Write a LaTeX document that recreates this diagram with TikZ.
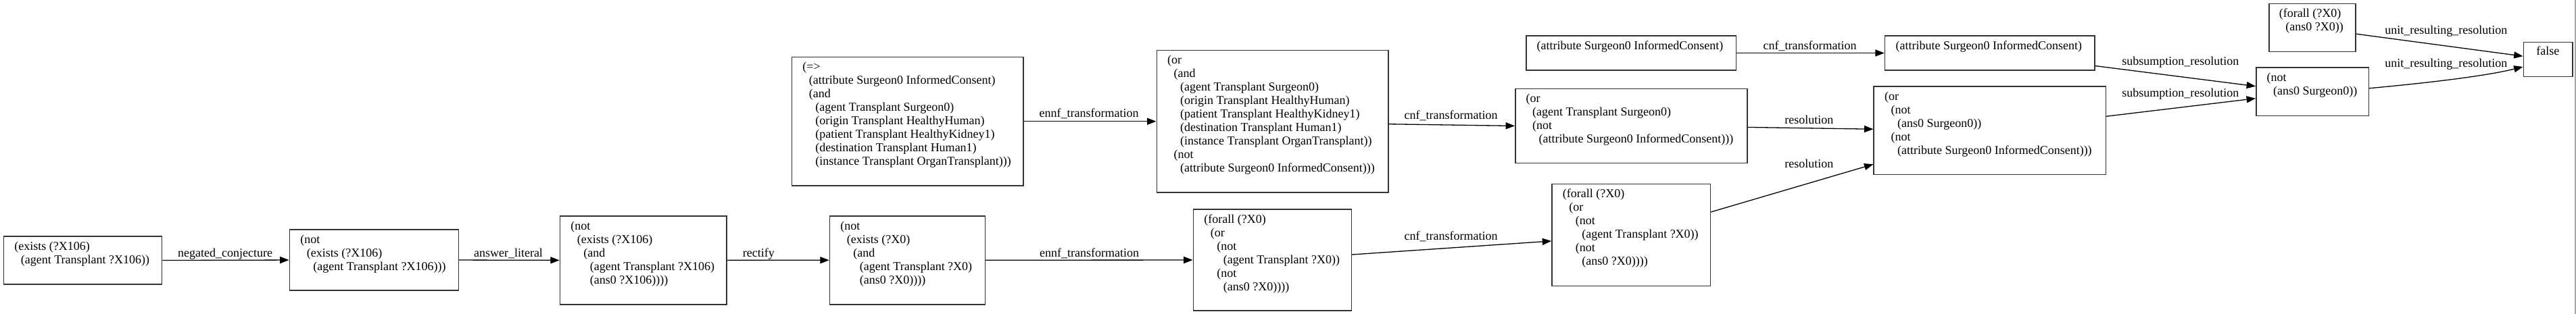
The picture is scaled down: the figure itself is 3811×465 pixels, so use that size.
\documentclass[tikz,border=0pt]{standalone}
\usepackage{fontspec}
\setmainfont{Liberation Serif}
\usetikzlibrary{arrows.meta,calc}
\newlength\ilen \setlength\ilen{9.5pt}
\newcommand\lv[1]{\hspace*{#1\ilen}}
\newcommand\cl[1]{\vtop{\halign{##\hfil\cr#1\crcr}}}
\tikzset{
  nbox/.style={draw=black!80, line width=1.5pt, inner sep=0pt, anchor=north west, fill=white},
  ntext/.style={anchor=base west, inner sep=0pt, font=\fontsize{18}{20}\selectfont},
  elab/.style={anchor=base, inner sep=0pt, font=\fontsize{18}{20}\selectfont},
  conn/.style={draw=black, line width=1.3pt, -{Triangle[length=13.4pt,width=10pt]}},
}
\begin{document}
\begin{tikzpicture}[x=1pt,y=-1pt]
\useasboundingbox (0,0) rectangle (3811,465);
\fill[white] (0,0) rectangle (3811,465);
\draw[black!35, line width=1.6pt] (3810.2,0) -- (3810.2,465);

% boxes
\node[nbox, minimum width=234.2pt, minimum height=71pt] (n1) at (4.6,349.3) {};
\node[nbox, minimum width=250.1pt, minimum height=90pt] (n2) at (427.6,339.3) {};
\node[nbox, minimum width=246.3pt, minimum height=130.7pt] (n3) at (827.7,319.3) {};
\node[nbox, minimum width=230pt, minimum height=131pt] (n4) at (1226.7,319) {};
\node[nbox, minimum width=233.9pt, minimum height=150pt] (n5) at (1764.6,309.3) {};
\node[nbox, minimum width=234.5pt, minimum height=151pt] (n6) at (2295.2,271.7) {};
\node[nbox, minimum width=342.6pt, minimum height=190pt] (n7) at (1170.7,84) {};
\node[nbox, minimum width=342.5pt, minimum height=210pt] (n8) at (1710.5,74) {};
\node[nbox, minimum width=310.5pt, minimum height=51pt] (n9) at (2257,52.3) {};
\node[nbox, minimum width=343pt, minimum height=110pt] (n10) at (2241,130.7) {};
\node[nbox, minimum width=310.5pt, minimum height=51pt] (n11) at (2787.8,52.3) {};
\node[nbox, minimum width=343.3pt, minimum height=130.4pt] (n12) at (2771.4,127.3) {};
\node[nbox, minimum width=166.5pt, minimum height=71.4pt] (n13) at (3337,99.3) {};
\node[nbox, minimum width=128pt, minimum height=71pt] (n14) at (3356.3,5) {};
\node[nbox, minimum width=72.7pt, minimum height=51pt] (n15) at (3732.5,61.7) {};

% texts
\node[ntext] (t1) at (21.1,370.3) {\cl{(exists (?X106)\cr\lv1(agent Transplant ?X106))}};
\node[ntext] (t2) at (444.1,360.3) {\cl{(not\cr\lv1(exists (?X106)\cr\lv2(agent Transplant ?X106)))}};
\node[ntext] (t3) at (844.2,340.3) {\cl{(not\cr\lv1(exists (?X106)\cr\lv2(and\cr\lv3(agent Transplant ?X106)\cr\lv3(ans0 ?X106))))}};
\node[ntext] (t4) at (1243.2,340) {\cl{(not\cr\lv1(exists (?X0)\cr\lv2(and\cr\lv3(agent Transplant ?X0)\cr\lv3(ans0 ?X0))))}};
\node[ntext] (t5) at (1781.1,330.3) {\cl{(forall (?X0)\cr\lv1(or\cr\lv2(not\cr\lv3(agent Transplant ?X0))\cr\lv2(not\cr\lv3(ans0 ?X0))))}};
\node[ntext] (t6) at (2311.7,292.7) {\cl{(forall (?X0)\cr\lv1(or\cr\lv2(not\cr\lv3(agent Transplant ?X0))\cr\lv2(not\cr\lv3(ans0 ?X0))))}};
\node[ntext] (t7) at (1187.2,105) {\cl{(=>\cr\lv1(attribute Surgeon0 InformedConsent)\cr\lv1(and\cr\lv2(agent Transplant Surgeon0)\cr\lv2(origin Transplant HealthyHuman)\cr\lv2(patient Transplant HealthyKidney1)\cr\lv2(destination Transplant Human1)\cr\lv2(instance Transplant OrganTransplant)))}};
\node[ntext] (t8) at (1727,95) {\cl{(or\cr\lv1(and\cr\lv2(agent Transplant Surgeon0)\cr\lv2(origin Transplant HealthyHuman)\cr\lv2(patient Transplant HealthyKidney1)\cr\lv2(destination Transplant Human1)\cr\lv2(instance Transplant OrganTransplant))\cr\lv1(not\cr\lv2(attribute Surgeon0 InformedConsent)))}};
\node[ntext] (t9) at (2273.5,73.3) {(attribute Surgeon0 InformedConsent)};
\node[ntext] (t10) at (2257.5,151.7) {\cl{(or\cr\lv1(agent Transplant Surgeon0)\cr\lv1(not\cr\lv2(attribute Surgeon0 InformedConsent)))}};
\node[ntext] (t11) at (2804.3,73.3) {(attribute Surgeon0 InformedConsent)};
\node[ntext] (t12) at (2787.9,148.3) {\cl{(or\cr\lv1(not\cr\lv2(ans0 Surgeon0))\cr\lv1(not\cr\lv2(attribute Surgeon0 InformedConsent)))}};
\node[ntext] (t13) at (3353.5,120.3) {\cl{(not\cr\lv1(ans0 Surgeon0))}};
\node[ntext] (t14) at (3371.6,26) {\cl{(forall (?X0)\cr\lv1(ans0 ?X0))}};
\node[ntext] (t15) at (3752.2,81.7) {false};

% connectors
\draw[conn] (n1.east) -- (n2.west);
\draw[conn] (n2.east) -- (n3.west);
\draw[conn] (n3.east) -- (n4.west);
\draw[conn] (n4.east) -- (n5.west);
\draw[conn] ([yshift=8pt]n5.east) -- ([yshift=-9pt]n6.west);
\draw[conn] (n7.east) -- (n8.west);
\draw[conn] ([yshift=-4pt]n8.east) -- (n10.west);
\draw[conn] (n9.east) -- (n11.west);
\draw[conn] ([yshift=-2pt]n10.east) -- ([yshift=2pt]n12.west);
\draw[conn] ([yshift=34pt]n6.east) -- ([yshift=-50pt]n12.west);
\draw[conn] ([yshift=-19pt]n11.east) -- ([yshift=8pt]n13.west);
\draw[conn] ([yshift=21pt]n12.east) -- ([yshift=-10pt]n13.west);
\draw[conn] ([yshift=-9pt]n14.east) -- ([yshift=4.7pt]n15.west);
\draw[conn] ([yshift=5pt]n13.east) .. controls (3600,122) and (3680,112) .. ([yshift=-11pt]n15.west);

% labels
\node[elab] (l1) at (333,380) {negated\_conjecture};
\node[elab] (l2) at (752,380) {answer\_literal};
\node[elab] (l3) at (1122.3,380) {rectify};
\node[elab] (l4) at (1611.7,380) {ennf\_transformation};
\node[elab] (l5) at (1611.2,173.3) {ennf\_transformation};
\node[elab] (l6) at (2146.6,176.7) {cnf\_transformation};
\node[elab] (l7) at (2146.6,355) {cnf\_transformation};
\node[elab] (l8) at (2677.5,73.3) {cnf\_transformation};
\node[elab] (l9) at (2676.3,184) {resolution};
\node[elab] (l10) at (2676.3,248.3) {resolution};
\node[elab] (l11) at (3225.8,96.7) {subsumption\_resolution};
\node[elab] (l12) at (3225.8,144) {subsumption\_resolution};
\node[elab] (l13) at (3618.8,51) {unit\_resulting\_resolution};
\node[elab] (l14) at (3618.8,99.5) {unit\_resulting\_resolution};
\end{tikzpicture}
\end{document}
